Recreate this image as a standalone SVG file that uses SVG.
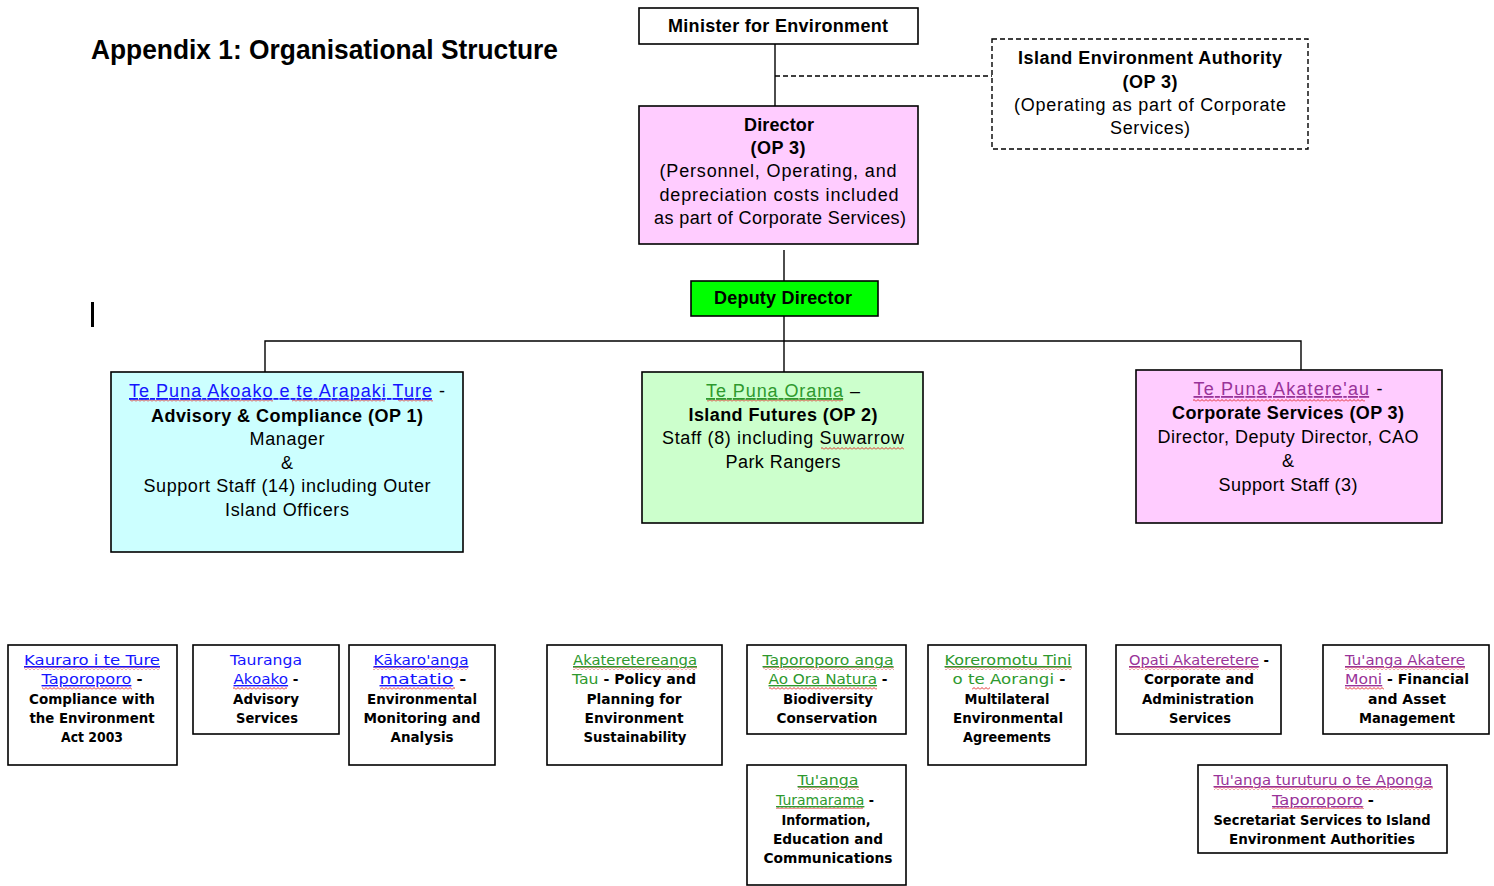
<svg xmlns="http://www.w3.org/2000/svg" width="1494" height="886" viewBox="0 0 1494 886">
  <defs>
    <!-- red spelling squiggle, tiled under flagged words -->
    <pattern id="sq" patternUnits="userSpaceOnUse" width="4" height="3">
      <path d="M0,2.5 L2,0.5 L4,2.5" fill="none" stroke="#e01818" stroke-width="0.9"/>
    </pattern>
  </defs>
  <style>
    .box { stroke: #000; stroke-width: 1.6; }
    .wht { fill: #fff; }
    .pink { fill: #ffccff; }
    .cyan { fill: #ccffff; }
    .lgreen { fill: #ccffcc; }
    .green { fill: #00ff00; }
    .dash { fill: #fff; stroke: #000; stroke-width: 1.4; stroke-dasharray: 5 3; }
    .ln { stroke: #000; stroke-width: 1.4; fill: none; }
    .ldash { stroke: #000; stroke-width: 1.4; fill: none; stroke-dasharray: 5 3; }
    .sq { fill: url(#sq); }
    text { font-family: "Liberation Sans", Arial, sans-serif; fill: #000; text-anchor: middle; }
    .m { font-size: 18px; }
    .b { font-weight: bold; }
    .title { font-size: 27px; font-weight: bold; text-anchor: start; }
    .s { font-family: "DejaVu Sans Condensed", "DejaVu Sans", sans-serif; font-size: 14px; font-weight: bold; }
    .nm { font-family: "DejaVu Sans", sans-serif; font-weight: normal; }
    .blue { fill: #1515ff; text-decoration: underline; }
    .grn { fill: #2e992e; text-decoration: underline; }
    .pur { fill: #993399; text-decoration: underline; }
  </style>

  <!-- heading and stray cursor bar -->
  <text class="title" x="91" y="59" textLength="467" lengthAdjust="spacingAndGlyphs">Appendix 1: Organisational Structure</text>
  <rect x="91" y="302" width="3" height="25" fill="#000"/>

  <!-- connectors -->
  <g id="connectors">
    <line class="ln" x1="775" y1="44" x2="775" y2="106"/>
    <line class="ldash" x1="775" y1="76" x2="992" y2="76"/>
    <line class="ln" x1="784" y1="250" x2="784" y2="281"/>
    <line class="ln" x1="784" y1="316" x2="784" y2="372"/>
    <polyline class="ln" points="265,372 265,341 1301,341 1301,370"/>
  </g>

  <g id="minister">
    <rect class="box wht" x="639" y="8" width="279" height="36"/>
    <text class="m b" x="778" y="32" textLength="220">Minister for Environment</text>
  </g>

  <g id="iea">
    <rect class="dash" x="992" y="39" width="316" height="110"/>
    <text class="m b" x="1150" y="64" textLength="264">Island Environment Authority</text>
    <text class="m b" x="1150" y="88" textLength="55">(OP 3)</text>
    <text class="m" x="1150" y="111" textLength="272">(Operating as part of Corporate</text>
    <text class="m" x="1150" y="134" textLength="80">Services)</text>
  </g>

  <g id="director">
    <rect class="box pink" x="639" y="106" width="279" height="138"/>
    <text class="m b" x="779" y="131" textLength="70">Director</text>
    <text class="m b" x="778" y="154" textLength="55">(OP 3)</text>
    <text class="m" x="778" y="177" textLength="237">(Personnel, Operating, and</text>
    <text class="m" x="779" y="201" textLength="239">depreciation costs included</text>
    <text class="m" x="780" y="224" textLength="252">as part of Corporate Services)</text>
  </g>

  <g id="deputy">
    <rect class="box green" x="691" y="281" width="187" height="35"/>
    <text class="m b" x="783" y="304" textLength="138">Deputy Director</text>
  </g>

  <g id="advisory">
    <rect class="box cyan" x="111" y="372" width="352" height="180"/>
    <rect class="sq" x="130" y="399" width="143" height="3"/>
    <rect class="sq" x="292" y="399" width="93" height="3"/>
    <rect class="sq" x="398" y="399" width="35" height="3"/>
    <text class="m" x="287" y="397" textLength="316"><tspan class="blue">Te Puna Akoako e te Arapaki Ture</tspan> -</text>
    <text class="m b" x="287" y="422" textLength="272">Advisory &amp; Compliance (OP 1)</text>
    <text class="m" x="287" y="445" textLength="75">Manager</text>
    <text class="m" x="287" y="469">&amp;</text>
    <text class="m" x="287" y="492" textLength="287">Support Staff (14) including Outer</text>
    <text class="m" x="287" y="516" textLength="124">Island Officers</text>
  </g>

  <g id="futures">
    <rect class="box lgreen" x="642" y="372" width="281" height="151"/>
    <rect class="sq" x="707" y="399" width="136" height="3"/>
    <rect class="sq" x="821" y="447" width="83" height="3"/>
    <text class="m" x="783" y="397" textLength="154"><tspan class="grn">Te Puna Orama</tspan> –</text>
    <text class="m b" x="783" y="421" textLength="189">Island Futures (OP 2)</text>
    <text class="m" x="783" y="444" textLength="242">Staff (8) including Suwarrow</text>
    <text class="m" x="783" y="468" textLength="115">Park Rangers</text>
  </g>

  <g id="corporate">
    <rect class="box pink" x="1136" y="370" width="306" height="153"/>
    <rect class="sq" x="1193" y="399" width="172" height="3"/>
    <text class="m" x="1288" y="395" textLength="189"><tspan class="pur">Te Puna Akatere'au</tspan>  -</text>
    <text class="m b" x="1288" y="419" textLength="232">Corporate Services (OP 3)</text>
    <text class="m" x="1288" y="443" textLength="261">Director, Deputy Director, CAO</text>
    <text class="m" x="1288" y="467">&amp;</text>
    <text class="m" x="1288" y="491" textLength="139">Support Staff (3)</text>
  </g>

  <!-- section units -->
  <g id="unit-compliance">
    <rect class="box wht" x="8" y="645" width="169" height="120"/>
    <rect class="sq" x="24" y="667" width="136" height="3"/>
    <rect class="sq" x="42" y="687" width="90" height="3"/>
    <text class="s" x="92" y="665" textLength="136" lengthAdjust="spacingAndGlyphs"><tspan class="nm blue">Kauraro i te Ture</tspan></text>
    <text class="s" x="92" y="684" textLength="101" lengthAdjust="spacingAndGlyphs"><tspan class="nm blue">Taporoporo</tspan> -</text>
    <text class="s" x="92" y="704" textLength="126" lengthAdjust="spacingAndGlyphs">Compliance with</text>
    <text class="s" x="92" y="723" textLength="125" lengthAdjust="spacingAndGlyphs">the Environment</text>
    <text class="s" x="92" y="742" textLength="62" lengthAdjust="spacingAndGlyphs">Act 2003</text>
  </g>

  <g id="unit-advisory">
    <rect class="box wht" x="193" y="645" width="146" height="89"/>
    <rect class="sq" x="233" y="687" width="54" height="3"/>
    <text class="s" x="266" y="665" textLength="72" lengthAdjust="spacingAndGlyphs"><tspan class="nm" style="fill:#1515ff">Tauranga</tspan></text>
    <text class="s" x="266" y="684" textLength="65" lengthAdjust="spacingAndGlyphs"><tspan class="nm blue">Akoako</tspan> -</text>
    <text class="s" x="266" y="704" textLength="66" lengthAdjust="spacingAndGlyphs">Advisory</text>
    <text class="s" x="267" y="723" textLength="62" lengthAdjust="spacingAndGlyphs">Services</text>
  </g>

  <g id="unit-monitoring">
    <rect class="box wht" x="349" y="645" width="146" height="120"/>
    <rect class="sq" x="373" y="667" width="95" height="3"/>
    <rect class="sq" x="380" y="687" width="75" height="3"/>
    <text class="s" x="421" y="665" textLength="95" lengthAdjust="spacingAndGlyphs"><tspan class="nm blue">Kākaro'anga</tspan></text>
    <text class="s" x="423" y="684" textLength="87" lengthAdjust="spacingAndGlyphs"><tspan class="nm blue">matatio</tspan> -</text>
    <text class="s" x="422" y="704" textLength="110" lengthAdjust="spacingAndGlyphs">Environmental</text>
    <text class="s" x="422" y="723" textLength="117" lengthAdjust="spacingAndGlyphs">Monitoring and</text>
    <text class="s" x="422" y="742" textLength="63" lengthAdjust="spacingAndGlyphs">Analysis</text>
  </g>

  <g id="unit-policy">
    <rect class="box wht" x="547" y="645" width="175" height="120"/>
    <rect class="sq" x="573" y="667" width="124" height="3"/>
    <text class="s" x="635" y="665" textLength="124" lengthAdjust="spacingAndGlyphs"><tspan class="nm grn">Akateretereanga</tspan></text>
    <text class="s" x="634" y="684" textLength="124" lengthAdjust="spacingAndGlyphs"><tspan class="nm" style="fill:#2e992e">Tau</tspan> - Policy and</text>
    <text class="s" x="634" y="704" textLength="95" lengthAdjust="spacingAndGlyphs">Planning for</text>
    <text class="s" x="634" y="723" textLength="99" lengthAdjust="spacingAndGlyphs">Environment</text>
    <text class="s" x="635" y="742" textLength="103" lengthAdjust="spacingAndGlyphs">Sustainability</text>
  </g>

  <g id="unit-biodiversity">
    <rect class="box wht" x="747" y="645" width="159" height="89"/>
    <rect class="sq" x="763" y="667" width="131" height="3"/>
    <rect class="sq" x="769" y="687" width="108" height="3"/>
    <text class="s" x="828" y="665" textLength="131" lengthAdjust="spacingAndGlyphs"><tspan class="nm grn">Taporoporo anga</tspan></text>
    <text class="s" x="828" y="684" textLength="119" lengthAdjust="spacingAndGlyphs"><tspan class="nm grn">Ao Ora Natura</tspan> -</text>
    <text class="s" x="828" y="704" textLength="90" lengthAdjust="spacingAndGlyphs">Biodiversity</text>
    <text class="s" x="827" y="723" textLength="101" lengthAdjust="spacingAndGlyphs">Conservation</text>
  </g>

  <g id="unit-multilateral">
    <rect class="box wht" x="928" y="645" width="158" height="120"/>
    <rect class="sq" x="945" y="667" width="127" height="3"/>
    <rect class="sq" x="972" y="687" width="18" height="3"/>
    <text class="s" x="1008" y="665" textLength="127" lengthAdjust="spacingAndGlyphs"><tspan class="nm grn">Koreromotu Tini</tspan></text>
    <text class="s" x="1009" y="684" textLength="113" lengthAdjust="spacingAndGlyphs"><tspan class="nm" style="fill:#2e992e">o te Aorangi</tspan> -</text>
    <text class="s" x="1007" y="704" textLength="85" lengthAdjust="spacingAndGlyphs">Multilateral</text>
    <text class="s" x="1008" y="723" textLength="110" lengthAdjust="spacingAndGlyphs">Environmental</text>
    <text class="s" x="1007" y="742" textLength="88" lengthAdjust="spacingAndGlyphs">Agreements</text>
  </g>

  <g id="unit-corporate">
    <rect class="box wht" x="1116" y="645" width="165" height="89"/>
    <rect class="sq" x="1129" y="667" width="129" height="3"/>
    <text class="s" x="1199" y="665" textLength="140" lengthAdjust="spacingAndGlyphs"><tspan class="nm pur">Opati Akateretere</tspan> -</text>
    <text class="s" x="1199" y="684" textLength="110" lengthAdjust="spacingAndGlyphs">Corporate and</text>
    <text class="s" x="1198" y="704" textLength="112" lengthAdjust="spacingAndGlyphs">Administration</text>
    <text class="s" x="1200" y="723" textLength="62" lengthAdjust="spacingAndGlyphs">Services</text>
  </g>

  <g id="unit-financial">
    <rect class="box wht" x="1323" y="645" width="166" height="89"/>
    <rect class="sq" x="1345" y="667" width="120" height="3"/>
    <rect class="sq" x="1345" y="687" width="39" height="3"/>
    <text class="s" x="1405" y="665" textLength="120" lengthAdjust="spacingAndGlyphs"><tspan class="nm pur">Tu'anga Akatere</tspan></text>
    <text class="s" x="1407" y="684" textLength="124" lengthAdjust="spacingAndGlyphs"><tspan class="nm pur">Moni</tspan> - Financial</text>
    <text class="s" x="1407" y="704" textLength="78" lengthAdjust="spacingAndGlyphs">and Asset</text>
    <text class="s" x="1407" y="723" textLength="96" lengthAdjust="spacingAndGlyphs">Management</text>
  </g>

  <g id="unit-information">
    <rect class="box wht" x="747" y="765" width="159" height="120"/>
    <rect class="sq" x="798" y="787" width="61" height="3"/>
    <rect class="sq" x="776" y="806" width="87" height="3"/>
    <text class="s" x="828" y="785" textLength="61" lengthAdjust="spacingAndGlyphs"><tspan class="nm grn">Tu'anga</tspan></text>
    <text class="s" x="825" y="805" textLength="98" lengthAdjust="spacingAndGlyphs"><tspan class="nm grn">Turamarama</tspan> -</text>
    <text class="s" x="826" y="825" textLength="89" lengthAdjust="spacingAndGlyphs">Information,</text>
    <text class="s" x="828" y="844" textLength="110" lengthAdjust="spacingAndGlyphs">Education and</text>
    <text class="s" x="828" y="863" textLength="129" lengthAdjust="spacingAndGlyphs">Communications</text>
  </g>

  <g id="unit-secretariat">
    <rect class="box wht" x="1198" y="765" width="249" height="88"/>
    <rect class="sq" x="1214" y="787" width="219" height="3"/>
    <rect class="sq" x="1272" y="806" width="92" height="3"/>
    <text class="s" x="1323" y="785" textLength="219" lengthAdjust="spacingAndGlyphs"><tspan class="nm pur">Tu'anga turuturu o te Aponga</tspan></text>
    <text class="s" x="1323" y="805" textLength="102" lengthAdjust="spacingAndGlyphs"><tspan class="nm pur">Taporoporo</tspan> -</text>
    <text class="s" x="1322" y="825" textLength="217" lengthAdjust="spacingAndGlyphs">Secretariat Services to Island</text>
    <text class="s" x="1322" y="844" textLength="186" lengthAdjust="spacingAndGlyphs">Environment Authorities</text>
  </g>
</svg>
